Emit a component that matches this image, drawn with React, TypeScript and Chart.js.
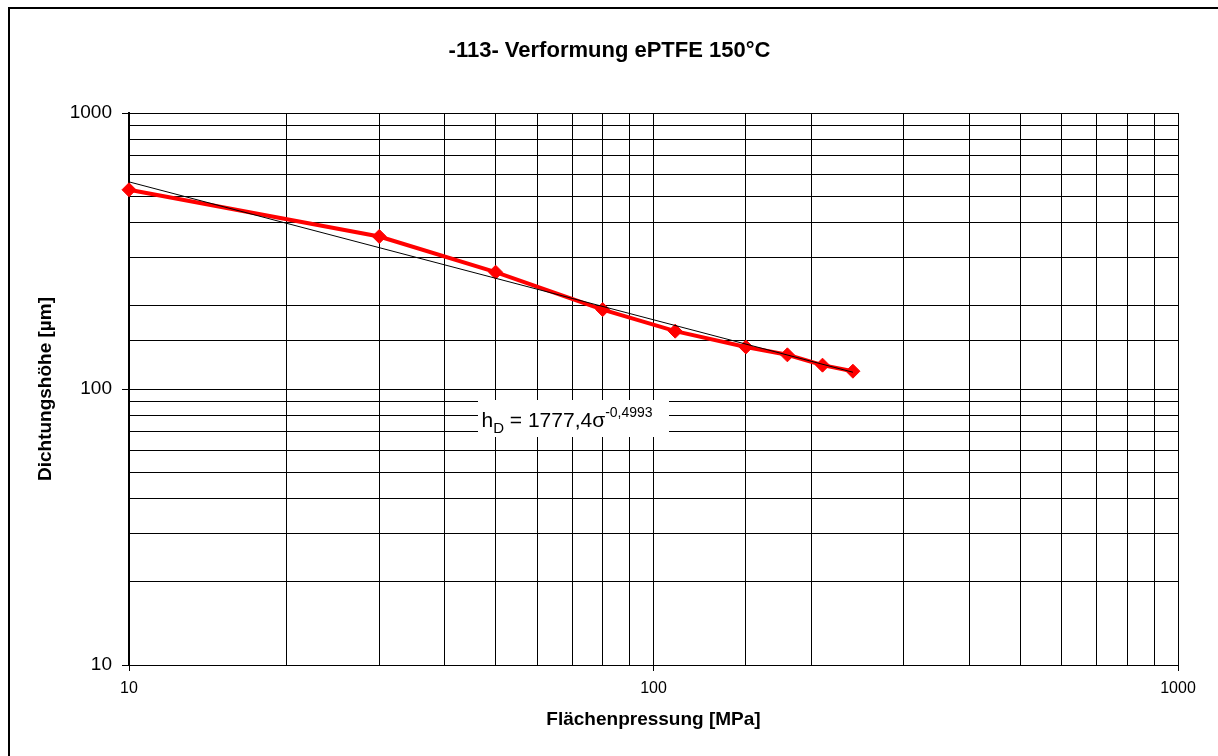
import React, { useEffect, useRef } from 'react';
import { Chart, registerables } from 'chart.js';

Chart.register(...registerables);

const chartTitle = '-113- Verformung ePTFE 150°C';
const xAxisTitle = 'Flächenpressung [MPa]';
const yAxisTitle = 'Dichtungshöhe [µm]';

const pressure = [10, 30, 50, 80, 110, 150, 180, 210, 240];
const sealHeight = [527, 357, 265, 194, 162, 142, 133, 122, 116];

const trendPressure = [10, 240];
const trendHeight = [563, 115];

const majorTicks = [10, 100, 1000];

const eqBase = 'h';
const eqSub = 'D';
const eqMain = ' = 1777,4σ';
const eqSup = '-0,4993';

const FONT = '"Liberation Sans", Arial, Helvetica, sans-serif';

const isMajor = (v: any) => majorTicks.includes(Number(v));

const decorPlugin = {
  id: 'decor',
  beforeDraw(chart: any) {
    const ctx = chart.ctx;
    ctx.save();
    ctx.fillStyle = '#ffffff';
    ctx.fillRect(0, 0, chart.width, chart.height);
    ctx.restore();
  },
  afterDraw(chart: any) {
    const ctx = chart.ctx;
    ctx.save();
    // outer frame (top and left visible)
    ctx.fillStyle = '#000000';
    ctx.fillRect(8, 7, 2, chart.height - 7);
    ctx.fillRect(8, 7, chart.width - 8, 2);

    // title
    ctx.font = `bold 22px ${FONT}`;
    ctx.textAlign = 'center';
    ctx.textBaseline = 'alphabetic';
    ctx.fillStyle = '#000000';
    ctx.fillText(chartTitle, 609.5, 57);

    // equation label
    const bx = 478, by = 400, bw = 191, bh = 37;
    ctx.fillStyle = '#ffffff';
    ctx.fillRect(bx, by, bw, bh);
    ctx.fillStyle = '#000000';
    ctx.textAlign = 'left';
    const base = 426.5;
    let x = 481.5;
    ctx.font = `21px ${FONT}`;
    ctx.fillText(eqBase, x, base);
    x += ctx.measureText(eqBase).width;
    ctx.font = `15px ${FONT}`;
    ctx.fillText(eqSub, x, base + 6);
    x += ctx.measureText(eqSub).width;
    ctx.font = `21px ${FONT}`;
    ctx.fillText(eqMain, x, base);
    x += ctx.measureText(eqMain).width;
    ctx.font = `14px ${FONT}`;
    ctx.fillText(eqSup, x, base - 10);
    ctx.restore();
  },
};

export default function App() {
  const canvasRef = useRef<HTMLCanvasElement | null>(null);

  useEffect(() => {
    const canvas = canvasRef.current;
    if (!canvas) return;
    const measured = pressure.map((p, i) => ({ x: p, y: sealHeight[i] }));
    const trend = trendPressure.map((p, i) => ({ x: p, y: trendHeight[i] }));

    const chart = new Chart(canvas, {
      type: 'line',
      data: {
        datasets: [
          {
            label: 'Trend',
            data: trend,
            borderColor: '#000000',
            borderWidth: 1,
            pointRadius: 0,
            fill: false,
            tension: 0,
            order: 0,
            clip: false,
          },
          {
            label: 'Messung',
            data: measured,
            borderColor: '#ff0000',
            backgroundColor: '#ff0000',
            borderWidth: 4,
            pointStyle: 'rectRot',
            pointRadius: 7,
            pointBackgroundColor: '#ff0000',
            pointBorderColor: '#ff0000',
            pointBorderWidth: 1,
            fill: false,
            tension: 0,
            order: 1,
            clip: false,
          },
        ],
      },
      options: {
        responsive: false,
        animation: false,
        layout: { padding: { top: 113, right: 40, bottom: 0, left: 0 } },
        plugins: {
          legend: { display: false },
          title: { display: false },
          tooltip: { enabled: false },
        },
        scales: {
          x: {
            type: 'logarithmic',
            position: 'bottom',
            min: 10,
            max: 1000,
            afterFit: (s: any) => {
              s.height = 91;
            },
            grid: {
              color: '#000000',
              lineWidth: 1,
              drawTicks: true,
              tickLength: 6,
              tickColor: (c: any) => (isMajor(c.tick && c.tick.value) ? '#000000' : 'rgba(0,0,0,0)'),
            },
            border: { color: '#000000', width: 1 },
            ticks: {
              autoSkip: false,
              maxRotation: 0,
              padding: 8,
              color: '#000000',
              font: { family: FONT, size: 16 },
              callback: (v: any) => (isMajor(v) ? String(v) : ''),
            },
            title: {
              display: true,
              text: xAxisTitle,
              color: '#000000',
              font: { family: FONT, size: 19, weight: 'bold' },
              padding: { top: 0, bottom: 24.6 },
            },
          },
          y: {
            type: 'logarithmic',
            position: 'left',
            min: 10,
            max: 1000,
            afterFit: (s: any) => {
              s.width = 129;
            },
            grid: {
              color: '#000000',
              lineWidth: 1,
              drawTicks: true,
              tickLength: 7,
              tickColor: (c: any) => (isMajor(c.tick && c.tick.value) ? '#000000' : 'rgba(0,0,0,0)'),
            },
            border: { color: '#000000', width: 2 },
            ticks: {
              autoSkip: false,
              padding: 10,
              color: '#000000',
              font: { family: FONT, size: 19 },
              callback: (v: any) => (isMajor(v) ? String(v) : ''),
            },
            title: {
              display: true,
              text: yAxisTitle,
              color: '#000000',
              font: { family: FONT, size: 19, weight: 'bold' },
              padding: { top: 34, bottom: 0 },
            },
          },
        },
      } as any,
      plugins: [decorPlugin],
    });

    return () => {
      chart.destroy();
    };
  }, []);

  return (
    <canvas
      ref={canvasRef}
      width={1218}
      height={756}
      style={{ position: 'fixed', left: 0, top: 0, display: 'block' }}
    />
  );
}
